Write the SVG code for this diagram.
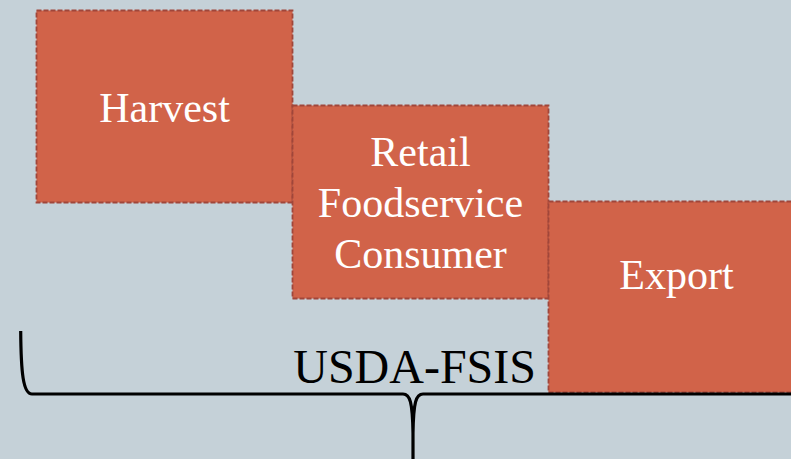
<svg xmlns="http://www.w3.org/2000/svg" width="791" height="459" viewBox="0 0 791 459">
<style>
.box{fill:#d16349;stroke:#a0463a;stroke-width:1.8;stroke-dasharray:5 2}
.lbl{font-family:"Liberation Serif","Times New Roman",serif;font-size:42px;fill:#ffffff;text-anchor:middle}
.brace{fill:none;stroke:#000000;stroke-width:3.2;stroke-linejoin:round}
</style>
<rect x="0" y="0" width="791" height="459" fill="#c5d1d8"/>
<g id="harvest">
<rect class="box" x="36.5" y="10.5" width="256" height="192"/>
<text class="lbl" x="164.5" y="122">Harvest</text>
</g>
<g id="retail">
<rect class="box" x="292.5" y="105.5" width="256" height="193"/>
<text class="lbl" x="420.5" y="166">Retail</text>
<text class="lbl" x="420.5" y="217">Foodservice</text>
<text class="lbl" x="420.5" y="268">Consumer</text>
</g>
<g id="export">
<rect class="box" x="548.5" y="201.5" width="250" height="191"/>
<text class="lbl" x="676.5" y="289">Export</text>
</g>
<g id="connectors">
<path class="brace" d="M20.7,331 C21,372 23,394 32,394 L403,394 C410,394 412.5,402 413,433 L413,459 M413,433 C413.5,402 416,394 423,394 L791,394"/>
</g>
<g id="usda">
<text x="536" y="383" font-family="'Liberation Serif','Times New Roman',serif" font-size="48" fill="#000000" text-anchor="end">USDA-FSIS</text>
</g>
</svg>
